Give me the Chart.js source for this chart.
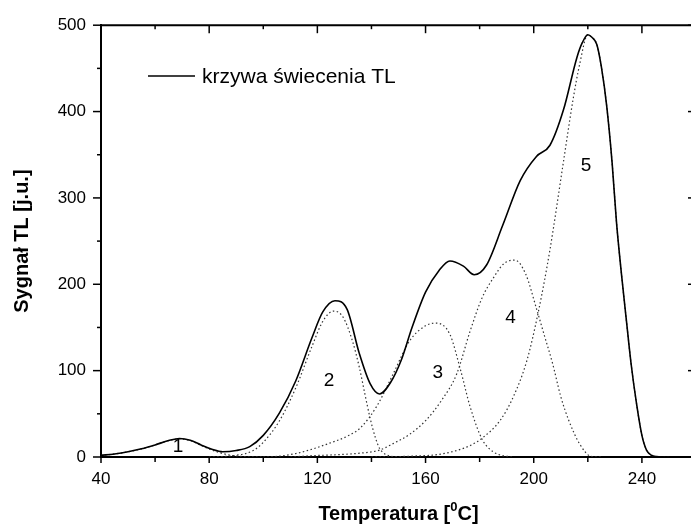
<!DOCTYPE html>
<html>
<head>
<meta charset="utf-8">
<script src="https://cdn.jsdelivr.net/npm/chart.js@4.4.1/dist/chart.umd.min.js"></script>
<style>
  html, body { margin: 0; padding: 0; overflow: hidden; background: #fff; }
  canvas { display: block; }
</style>
</head>
<body>
<canvas id="tlChart" width="700" height="528"></canvas>
<script>
// glow curve and its five fitted peaks (T in C, signal in j.u.)
const totalT = [40, 45, 50, 55, 60, 65, 69, 73, 77, 81, 85, 90, 95, 100, 106, 112, 118, 122, 126.5, 131, 135.5, 139.5, 143, 147, 151, 155, 160, 165, 169, 174, 178, 182.5, 188.5, 195, 201, 206, 211, 216, 218, 220, 221.5, 223.3, 225, 227, 229, 230.6, 232.5, 234.3, 236, 238, 240, 241.7, 243.5, 245.4, 250, 260];
const totalV = [2, 3.5, 6, 9.5, 14, 19, 21.5, 19.5, 14, 9, 6, 7.5, 12, 25, 51, 88, 138, 168, 181, 171, 120, 85, 73, 86, 112, 150, 191, 216, 227, 221, 211, 222, 268, 320, 348, 361, 402, 463, 480, 489, 486, 478, 452, 406, 340, 272, 210, 157, 108, 62, 25, 8, 2, 0.5, 0, 0];

const peak1T = [40, 45, 50, 55, 60, 65, 69, 73, 77, 81, 85, 89, 94, 100];
const peak1V = [2, 3.5, 6, 9.5, 14, 19, 21, 19, 13.5, 8, 4, 1.5, 0.3, 0];

const peak2T = [80, 90, 96, 100, 106, 112, 118, 122, 126, 129.5, 133, 135.5, 137.5, 139.5, 141.5, 143, 146, 150];
const peak2V = [0, 2, 7, 17, 42, 80, 128, 157, 169, 162, 134, 104, 74, 45, 22, 10, 2, 0];

const peak3T = [100, 106, 112, 118, 124.5, 131, 136, 142, 148, 154, 160, 164, 169, 173, 176.5, 181, 185, 188, 192];
const peak3V = [0, 1, 4, 9, 16, 24, 34, 59, 96, 134, 152, 155, 142, 100, 58, 20, 6, 2, 0];

const peak4T = [110, 118, 126, 136, 143, 148, 154, 160, 166, 171.5, 176.5, 181, 185, 189, 193, 197, 201, 204, 207, 210, 213, 217, 221, 225];
const peak4V = [0, 1.5, 2.5, 4.5, 8, 15.5, 26, 42, 66, 96, 146, 185, 207, 224, 228, 212, 172, 140, 108, 70, 42, 15, 1, 0];

const peak5T = [140, 155, 165, 172, 177, 181, 187.5, 192.5, 197.5, 201.7, 206, 210.9, 214.6, 217, 220, 221.5, 223.3, 225, 227, 229, 230.6, 232.5, 234.3, 236, 238, 240, 241.7, 243.5, 245.4, 250];
const peak5V = [0, 1, 3, 8, 14, 22, 42, 70, 112, 168, 240, 340, 415, 455, 489, 486, 478, 452, 406, 340, 272, 210, 157, 108, 62, 25, 8, 2, 0.5, 0];

// peak numbers written inside the plot
const peakNames = ['1', '2', '3', '4', '5'];
const peakLabelT = [68.5, 124.3, 164.5, 191.4, 219.3];
const peakLabelV = [11.5, 88, 97, 161, 337];

const xTicks = [40, 80, 120, 160, 200, 240];
const yTicks = [0, 100, 200, 300, 400, 500];

const FONT = 'Arial, "Liberation Sans", sans-serif';

function toPoints(ts, vs) {
    return ts.map((t, i) => ({ x: t, y: vs[i] }));
}

function dotted(ts, vs) {
    return {
        data: toPoints(ts, vs),
        borderColor: '#333',
        borderWidth: 1.2,
        borderDash: [1.5, 2.5],
        pointRadius: 0,
        cubicInterpolationMode: 'monotone',
        fill: false
    };
}

function line(ctx, x1, y1, x2, y2) {
    ctx.beginPath();
    ctx.moveTo(x1, y1);
    ctx.lineTo(x2, y2);
    ctx.stroke();
}

// frame, tick marks, titles, legend and peak numbers
const decorations = {
    id: 'decorations',
    afterDraw(chart) {
        const { ctx, chartArea: a, scales: { x, y } } = chart;
        ctx.save();
        ctx.strokeStyle = '#000';
        ctx.fillStyle = '#000';

        ctx.lineWidth = 2;
        ctx.beginPath();
        ctx.moveTo(a.left, a.top);
        ctx.lineTo(a.right, a.top);
        ctx.lineTo(a.right, a.bottom);
        ctx.stroke();

        ctx.lineWidth = 1.5;
        for (let t = 40; t <= 260; t += 20) {
            const px = x.getPixelForValue(t);
            const major = xTicks.includes(t);
            line(ctx, px, a.bottom, px, a.bottom + (major ? 6 : 5));
            line(ctx, px, a.top, px, a.top + (major ? 8 : 4));
        }
        for (let v = 0; v <= 500; v += 50) {
            const py = y.getPixelForValue(v);
            const major = yTicks.includes(v);
            line(ctx, a.left - (major ? 8 : 4), py, a.left, py);
            line(ctx, a.right - (major ? 8 : 4), py, a.right, py);
        }

        // x title with superscript 0
        ctx.textBaseline = 'alphabetic';
        ctx.textAlign = 'left';
        const part1 = 'Temperatura [', part2 = '0', part3 = 'C]';
        ctx.font = 'bold 20px ' + FONT;
        const w1 = ctx.measureText(part1).width;
        const w3 = ctx.measureText(part3).width;
        ctx.font = 'bold 13px ' + FONT;
        const w2 = ctx.measureText(part2).width;
        let tx = (a.left + a.right) / 2 - (w1 + w2 + w3) / 2;
        const ty = 520;
        ctx.font = 'bold 20px ' + FONT;
        ctx.fillText(part1, tx, ty);
        tx += w1;
        ctx.font = 'bold 13px ' + FONT;
        ctx.fillText(part2, tx, ty - 9);
        tx += w2;
        ctx.font = 'bold 20px ' + FONT;
        ctx.fillText(part3, tx, ty);

        // y title
        ctx.save();
        ctx.translate(22, (a.top + a.bottom) / 2);
        ctx.rotate(-Math.PI / 2);
        ctx.textAlign = 'center';
        ctx.textBaseline = 'middle';
        ctx.font = 'bold 20px ' + FONT;
        ctx.fillText('Sygnał TL [j.u.]', 0, 0);
        ctx.restore();

        // legend
        ctx.lineWidth = 1.5;
        line(ctx, 148, 76, 195, 76);
        ctx.font = '21px ' + FONT;
        ctx.textAlign = 'left';
        ctx.textBaseline = 'middle';
        ctx.fillText('krzywa świecenia TL', 202, 77);

        // peak numbers
        ctx.font = '19px ' + FONT;
        ctx.textAlign = 'center';
        peakNames.forEach((name, i) => {
            ctx.fillText(name, x.getPixelForValue(peakLabelT[i]), y.getPixelForValue(peakLabelV[i]));
        });

        ctx.restore();
    }
};

const tlChart = new Chart(document.getElementById('tlChart'), {
    type: 'line',
    data: {
        datasets: [
            {
                data: toPoints(totalT, totalV),
                borderColor: '#000',
                borderWidth: 1.6,
                pointRadius: 0,
                cubicInterpolationMode: 'monotone',
                fill: false
            },
            dotted(peak1T, peak1V),
            dotted(peak2T, peak2V),
            dotted(peak3T, peak3V),
            dotted(peak4T, peak4V),
            dotted(peak5T, peak5V)
        ]
    },
    options: {
        responsive: false,
        devicePixelRatio: 1,
        animation: false,
        layout: { padding: { top: 21, right: 4, left: 0, bottom: 0 } },
        plugins: {
            legend: { display: false },
            tooltip: { enabled: false }
        },
        scales: {
            x: {
                type: 'linear',
                min: 40,
                max: 260,
                afterBuildTicks: s => { s.ticks = xTicks.map(v => ({ value: v })); },
                afterFit: s => { s.height = 71; },
                grid: { display: false, drawTicks: false },
                border: { display: true, color: '#000', width: 2 },
                ticks: { padding: 12, color: '#000', font: { family: FONT, size: 17 }, maxRotation: 0 }
            },
            y: {
                type: 'linear',
                min: 0,
                max: 500,
                afterBuildTicks: s => { s.ticks = yTicks.map(v => ({ value: v })); },
                afterFit: s => { s.width = 101; },
                grid: { display: false, drawTicks: false },
                border: { display: true, color: '#000', width: 2 },
                ticks: { padding: 15, color: '#000', font: { family: FONT, size: 17 } }
            }
        }
    },
    plugins: [decorations]
});
</script>
</body>
</html>
